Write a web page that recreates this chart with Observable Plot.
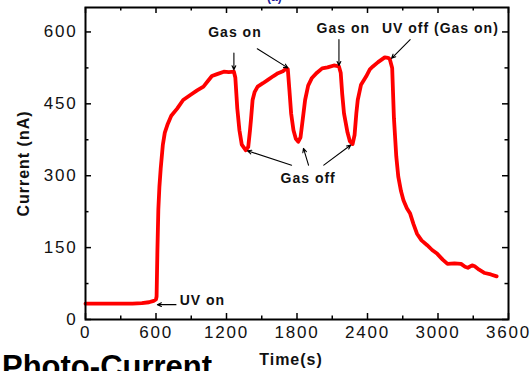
<!DOCTYPE html>
<html><head><meta charset="utf-8">
<script src="https://cdn.jsdelivr.net/npm/d3@7"></script>
<script src="https://cdn.jsdelivr.net/npm/@observablehq/plot@0.6"></script>
<style>
html,body{margin:0;padding:0;overflow:hidden;background:#fff;width:531px;height:371px}
#wrap{position:relative;width:531px;height:371px;overflow:hidden}
#title{position:absolute;left:2px;top:351px;font:bold 31px "Liberation Sans",Arial,sans-serif;line-height:31px;color:#000;white-space:nowrap}
#toptext{position:absolute;left:267px;top:-9px;font:bold 12px "Liberation Sans",Arial,sans-serif;line-height:12px;color:#1a1a99;white-space:nowrap}
</style></head><body><div id="wrap"><div id="chart"></div><div id="toptext">(a)</div><div id="title">Photo-Current</div></div>
<script>
// Photo-current trace (time in s, current in nA)
const time = [0,100,200,300,400,480,540,580,600,605,612,620,629,640,658,675,700,730,780,831,889,950,1004,1040,1076,1120,1177,1220,1263,1275,1292,1310,1330,1365,1385,1400,1408,1422,1440,1465,1510,1552,1600,1638,1680,1711,1722,1735,1750,1770,1790,1811,1830,1850,1869,1895,1927,1970,2014,2060,2114,2157,2172,2185,2200,2230,2250,2273,2290,2305,2317,2345,2388,2420,2446,2490,2547,2575,2590,2610,2625,2645,2662,2685,2706,2735,2763,2790,2821,2860,2908,2950,2994,3040,3081,3140,3196,3230,3254,3290,3312,3350,3398,3450,3499];
const current = [33,33,33,33,33,34,36,39,42,48,144,230,277,315,364,390,408,425,440,458,468,478,486,497,508,512,517,516,517,505,440,395,365,353,360,395,416,458,475,486,493,500,508,514,518,524,522,480,430,395,377,371,380,420,458,488,504,515,524,526,530,528,515,470,430,390,372,366,385,430,458,490,507,522,528,537,547,546,543,525,420,340,298,268,249,232,221,200,179,165,155,145,137,125,116,117,116,110,108,113,111,104,97,94,90];

// Axis ticks
const xMajor = [0,600,1200,1800,2400,3000,3600];
const xMinor = [300,900,1500,2100,2700,3300];
const yMajor = [0,150,300,450,600];
const yMinor = [75,225,375,525];

// Annotations
const annotText = ["Gas on","Gas on","UV off (Gas on)","Gas off","UV on"];
const annotX = [1272,2194,3020,1895,995];
const annotY = [598,608,608,294,39];

const arrowX1 = [770,1263,1462,2157,2763,1754,1898,2028];
const arrowY1 = [31,556,565,584,584,322,322,322];
const arrowX2 = [612,1263,1722,2157,2605,1379,1855,2258];
const arrowY2 = [31,521,525,530,545,352,357,364];

const series = time.map((t,i)=>({t, I: current[i]}));
const annots = annotText.map((s,i)=>({s, x: annotX[i], y: annotY[i]}));
const arrows = arrowX1.map((x1,i)=>({x1, y1: arrowY1[i], x2: arrowX2[i], y2: arrowY2[i]}));

const W = 531, H = 371, mL = 85, mR = 23, mT = 7, mB = 52;
const iw = W - mL - mR, ih = H - mT - mB;
const maj = 6, mnr = 3.5;

const chart = Plot.plot({
  width: W, height: H,
  marginLeft: mL, marginRight: mR, marginTop: mT, marginBottom: mB,
  style: {fontFamily: "'Liberation Sans', Arial, sans-serif", background: "#fff", color: "#111", overflow: "visible"},
  x: {domain: [0,3600]},
  y: {domain: [0,651]},
  marks: [
    Plot.axisX({ticks: xMajor, tickSize: 0, tickPadding: 6, fontSize: 17, label: null, tickFormat: d=>String(d)}),
    Plot.axisY({ticks: yMajor, tickSize: 0, tickPadding: 8, fontSize: 17, label: null, tickFormat: d=>String(d)}),
    Plot.tickX(xMajor, {x: d=>d, insetTop: ih - maj, stroke: "#000", strokeWidth: 1.5}),
    Plot.tickX(xMajor, {x: d=>d, insetBottom: ih - maj, stroke: "#000", strokeWidth: 1.5}),
    Plot.tickX(xMinor, {x: d=>d, insetTop: ih - mnr, stroke: "#000", strokeWidth: 1.5}),
    Plot.tickX(xMinor, {x: d=>d, insetBottom: ih - mnr, stroke: "#000", strokeWidth: 1.5}),
    Plot.tickY(yMajor, {y: d=>d, insetRight: iw - maj, stroke: "#000", strokeWidth: 1.5}),
    Plot.tickY(yMajor, {y: d=>d, insetLeft: iw - maj, stroke: "#000", strokeWidth: 1.5}),
    Plot.tickY(yMinor, {y: d=>d, insetRight: iw - mnr, stroke: "#000", strokeWidth: 1.5}),
    Plot.tickY(yMinor, {y: d=>d, insetLeft: iw - mnr, stroke: "#000", strokeWidth: 1.5}),
    Plot.line(series, {x: "t", y: "I", stroke: "#ff0000", strokeWidth: 3.8, strokeLinejoin: "round"}),
    Plot.arrow(arrows, {x1: "x1", y1: "y1", x2: "x2", y2: "y2", stroke: "#000", strokeWidth: 1.1, headLength: 6, headAngle: 50}),
    Plot.text(annots, {x: "x", y: "y", text: "s", fontSize: 14, fontWeight: "bold", fill: "#111"}),
    Plot.text(["Time(s)"], {frameAnchor: "bottom", dy: 45, dx: -6, fontSize: 16, fontWeight: "bold", fill: "#111"}),
    Plot.text(["Current (nA)"], {frameAnchor: "left", textAnchor: "middle", dx: -62, rotate: -90, fontSize: 16, fontWeight: "bold", fill: "#111"}),
    Plot.frame({stroke: "#000", strokeWidth: 2})
  ]
});
document.getElementById("chart").appendChild(chart);
const svg = d3.select(chart);
svg.selectAll("g[aria-label='x-axis tick label'] text, g[aria-label='y-axis tick label'] text").attr("letter-spacing", "1.8px");
svg.selectAll("g[aria-label='text'] text").attr("letter-spacing", "1px");
</script>
</body></html>
